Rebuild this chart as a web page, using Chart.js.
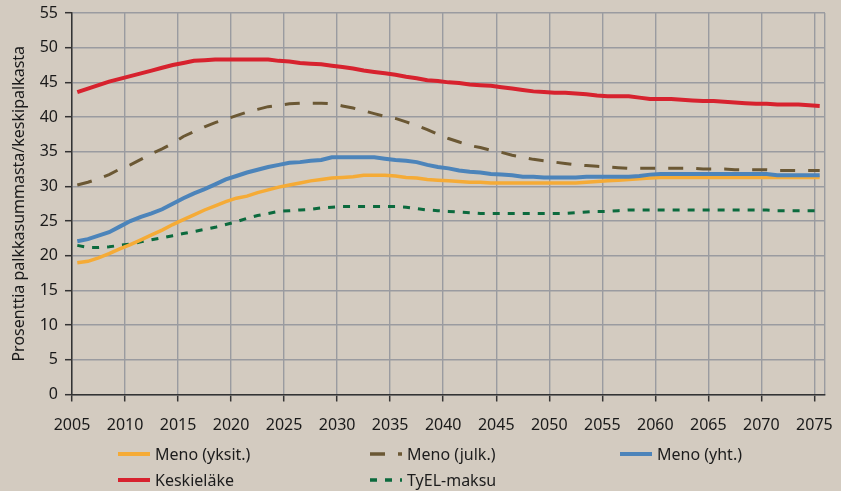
<!DOCTYPE html>
<html><head><meta charset="utf-8">
<script src="https://cdn.jsdelivr.net/npm/chart.js@4"></script>
<style>
html,body{margin:0;padding:0;background:#d3cbc0;}
#wrap{position:relative;width:841px;height:491px;overflow:hidden;background:#d3cbc0;}
canvas{position:absolute;left:0;top:0;}
.lg{position:absolute;font-family:"Noto Sans",sans-serif;font-size:16px;color:#1c1c1c;white-space:nowrap;line-height:20px;height:20px;}
.lg svg{position:absolute;top:7px;}
</style></head><body>
<div id="wrap"><canvas id="c" width="841" height="491"></canvas><div id="legend"></div></div>
<script>
const years = [2005,2006,2007,2008,2009,2010,2011,2012,2013,2014,2015,2016,2017,2018,2019,2020,2021,2022,2023,2024,2025,2026,2027,2028,2029,2030,2031,2032,2033,2034,2035,2036,2037,2038,2039,2040,2041,2042,2043,2044,2045,2046,2047,2048,2049,2050,2051,2052,2053,2054,2055,2056,2057,2058,2059,2060,2061,2062,2063,2064,2065,2066,2067,2068,2069,2070,2071,2072,2073,2074,2075];
const xTicks = [2005,2010,2015,2020,2025,2030,2035,2040,2045,2050,2055,2060,2065,2070,2075];
const yTicks = [0,5,10,15,20,25,30,35,40,45,50,55];

const menoYksit = [19.0,19.2,19.7,20.3,21.0,21.6,22.3,23.0,23.7,24.5,
 25.2,25.9,26.6,27.2,27.8,28.3,28.6,29.1,29.5,29.9,
 30.2,30.5,30.8,31.0,31.2,31.3,31.4,31.6,31.6,31.6,
 31.5,31.3,31.2,31.0,30.9,30.8,30.7,30.6,30.6,30.5,
 30.5,30.5,30.5,30.5,30.5,30.5,30.5,30.5,30.6,30.7,
 30.8,30.9,31.0,31.1,31.2,31.3,31.3,31.3,31.3,31.3,
 31.3,31.3,31.3,31.3,31.3,31.3,31.3,31.3,31.3,31.3,
 31.3];
const menoJulk = [30.2,30.6,31.1,31.7,32.5,33.1,33.9,34.7,35.4,36.2,
 37.2,37.9,38.6,39.2,39.7,40.2,40.7,41.1,41.5,41.7,
 41.9,42.0,42.0,42.0,41.9,41.6,41.3,40.9,40.5,40.1,
 39.8,39.3,38.8,38.2,37.5,36.9,36.4,35.9,35.6,35.2,
 34.9,34.5,34.2,33.9,33.7,33.5,33.3,33.1,33.0,32.9,
 32.8,32.7,32.6,32.6,32.6,32.6,32.6,32.6,32.6,32.5,
 32.5,32.5,32.4,32.4,32.4,32.4,32.3,32.3,32.3,32.3,
 32.3];
const menoYht = [22.1,22.4,22.9,23.4,24.2,25.0,25.6,26.1,26.7,27.5,
 28.3,29.0,29.6,30.3,31.0,31.5,32.0,32.4,32.8,33.1,
 33.4,33.5,33.7,33.8,34.2,34.2,34.2,34.2,34.2,34.0,
 33.8,33.7,33.5,33.1,32.8,32.6,32.3,32.1,32.0,31.8,
 31.7,31.6,31.4,31.4,31.3,31.3,31.3,31.3,31.4,31.4,
 31.4,31.4,31.4,31.5,31.7,31.8,31.8,31.8,31.8,31.8,
 31.8,31.8,31.8,31.8,31.8,31.8,31.6,31.6,31.6,31.6,
 31.6];
const keskielake = [43.6,44.1,44.6,45.1,45.5,45.9,46.3,46.7,47.1,47.5,
 47.8,48.1,48.2,48.3,48.3,48.3,48.3,48.3,48.3,48.1,
 48.0,47.8,47.7,47.6,47.4,47.2,47.0,46.7,46.5,46.3,
 46.1,45.8,45.6,45.3,45.2,45.0,44.9,44.7,44.6,44.5,
 44.3,44.1,43.9,43.7,43.6,43.5,43.5,43.4,43.3,43.1,
 43.0,43.0,43.0,42.8,42.6,42.6,42.6,42.5,42.4,42.3,
 42.3,42.2,42.1,42.0,41.9,41.9,41.8,41.8,41.8,41.7,
 41.6];
const tyelMaksu = [21.5,21.2,21.2,21.3,21.5,21.7,22.0,22.3,22.6,22.9,
 23.2,23.5,23.8,24.1,24.5,24.9,25.4,25.8,26.1,26.4,
 26.5,26.6,26.7,26.9,27.0,27.1,27.1,27.1,27.1,27.1,
 27.1,27.0,26.8,26.6,26.5,26.4,26.3,26.2,26.1,26.1,
 26.1,26.1,26.1,26.1,26.1,26.1,26.1,26.2,26.3,26.4,
 26.4,26.5,26.6,26.6,26.6,26.6,26.6,26.6,26.6,26.6,
 26.6,26.6,26.6,26.6,26.6,26.6,26.5,26.5,26.5,26.5,
 26.5];

const seriesLabels = ['Meno (yksit.)','Meno (julk.)','Meno (yht.)','Keskieläke','TyEL-maksu'];
const COL = {orange:'#f5ab36', brown:'#6b5834', blue:'#4c84ba', red:'#d7222e', green:'#0b6a3d'};

// values are annual, plotted at mid-year
const pts = arr => years.map((yr,i) => ({x: yr + 0.5, y: arr[i]}));

const FONT = '"Noto Sans", sans-serif';
const GRID = '#9a9ba0';
const AXIS = '#333333';

new Chart(document.getElementById('c'), {
  type: 'line',
  data: {
    datasets: [
      {label: seriesLabels[0], data: pts(menoYksit), borderColor: COL.orange, borderWidth: 3.5, order: 4},
      {label: seriesLabels[1], data: pts(menoJulk), borderColor: COL.brown, borderWidth: 3, borderDash: [15,13], order: 3},
      {label: seriesLabels[2], data: pts(menoYht), borderColor: COL.blue, borderWidth: 4, order: 2},
      {label: seriesLabels[3], data: pts(keskielake), borderColor: COL.red, borderWidth: 4, order: 1},
      {label: seriesLabels[4], data: pts(tyelMaksu), borderColor: COL.green, borderWidth: 3, borderDash: [7,8], order: 5}
    ]
  },
  options: {
    responsive: false,
    animation: false,
    layout: {padding: {left: 0, right: 16, top: 13, bottom: 0}},
    elements: {point: {radius: 0}, line: {tension: 0, fill: false, borderCapStyle: 'butt'}},
    plugins: {legend: {display: false}, tooltip: {enabled: false}},
    scales: {
      x: {
        type: 'linear', min: 2005, max: 2076,
        afterBuildTicks: s => { s.ticks = xTicks.map(v => ({value: v})).concat([{value: 2076}]); },
        afterFit: s => { s.height = 96.5; },
        ticks: {
          callback: v => (xTicks.includes(v) ? String(v) : ''),
          font: {family: FONT, size: 16}, color: '#1a1a1a', padding: 14, maxRotation: 0, autoSkip: false
        },
        grid: {color: GRID, lineWidth: 1.4, tickLength: 7,
               tickColor: c => (c.tick && c.tick.value === 2076 ? 'rgba(0,0,0,0)' : AXIS), tickWidth: 1.5},
        border: {color: AXIS, width: 1.5}
      },
      y: {
        min: 0, max: 55,
        afterBuildTicks: s => { s.ticks = yTicks.map(v => ({value: v})); },
        afterFit: s => { s.width = 72; s.paddingTop = 4; s.paddingBottom = 4; },
        ticks: {font: {family: FONT, size: 16}, color: '#1a1a1a', padding: 7},
        grid: {color: GRID, lineWidth: 1.4, tickLength: 7, tickColor: AXIS, tickWidth: 1.5},
        border: {color: AXIS, width: 1.5},
        title: {display: true, text: 'Prosenttia palkkasummasta/keskipalkasta',
                font: {family: FONT, size: 16}, color: '#1a1a1a', padding: {top: 10, bottom: 0}}
      }
    }
  }
});

// legend (HTML)
const legendItems = [
  {i: 0, col: COL.orange, dash: null, w: 4, sx: 118, tx: 155, y: 444},
  {i: 1, col: COL.brown, dash: '15 13', w: 3.5, sx: 370, tx: 407, y: 444},
  {i: 2, col: COL.blue, dash: null, w: 4, sx: 620, tx: 657, y: 444},
  {i: 3, col: COL.red, dash: null, w: 4, sx: 118, tx: 155, y: 470},
  {i: 4, col: COL.green, dash: '7 8', w: 3.5, sx: 370, tx: 407, y: 470}
];
const lg = document.getElementById('legend');
legendItems.forEach(it => {
  const d = document.createElement('div');
  d.className = 'lg';
  d.style.left = it.sx + 'px';
  d.style.top = it.y + 'px';
  d.style.paddingLeft = (it.tx - it.sx) + 'px';
  d.innerHTML = '<svg width="32" height="6" style="left:0"><line x1="0" y1="3" x2="32" y2="3" stroke="' + it.col +
    '" stroke-width="' + it.w + '"' + (it.dash ? ' stroke-dasharray="' + it.dash + '"' : '') + '/></svg>';
  d.appendChild(document.createTextNode(seriesLabels[it.i]));
  lg.appendChild(d);
});
</script>
</body></html>
